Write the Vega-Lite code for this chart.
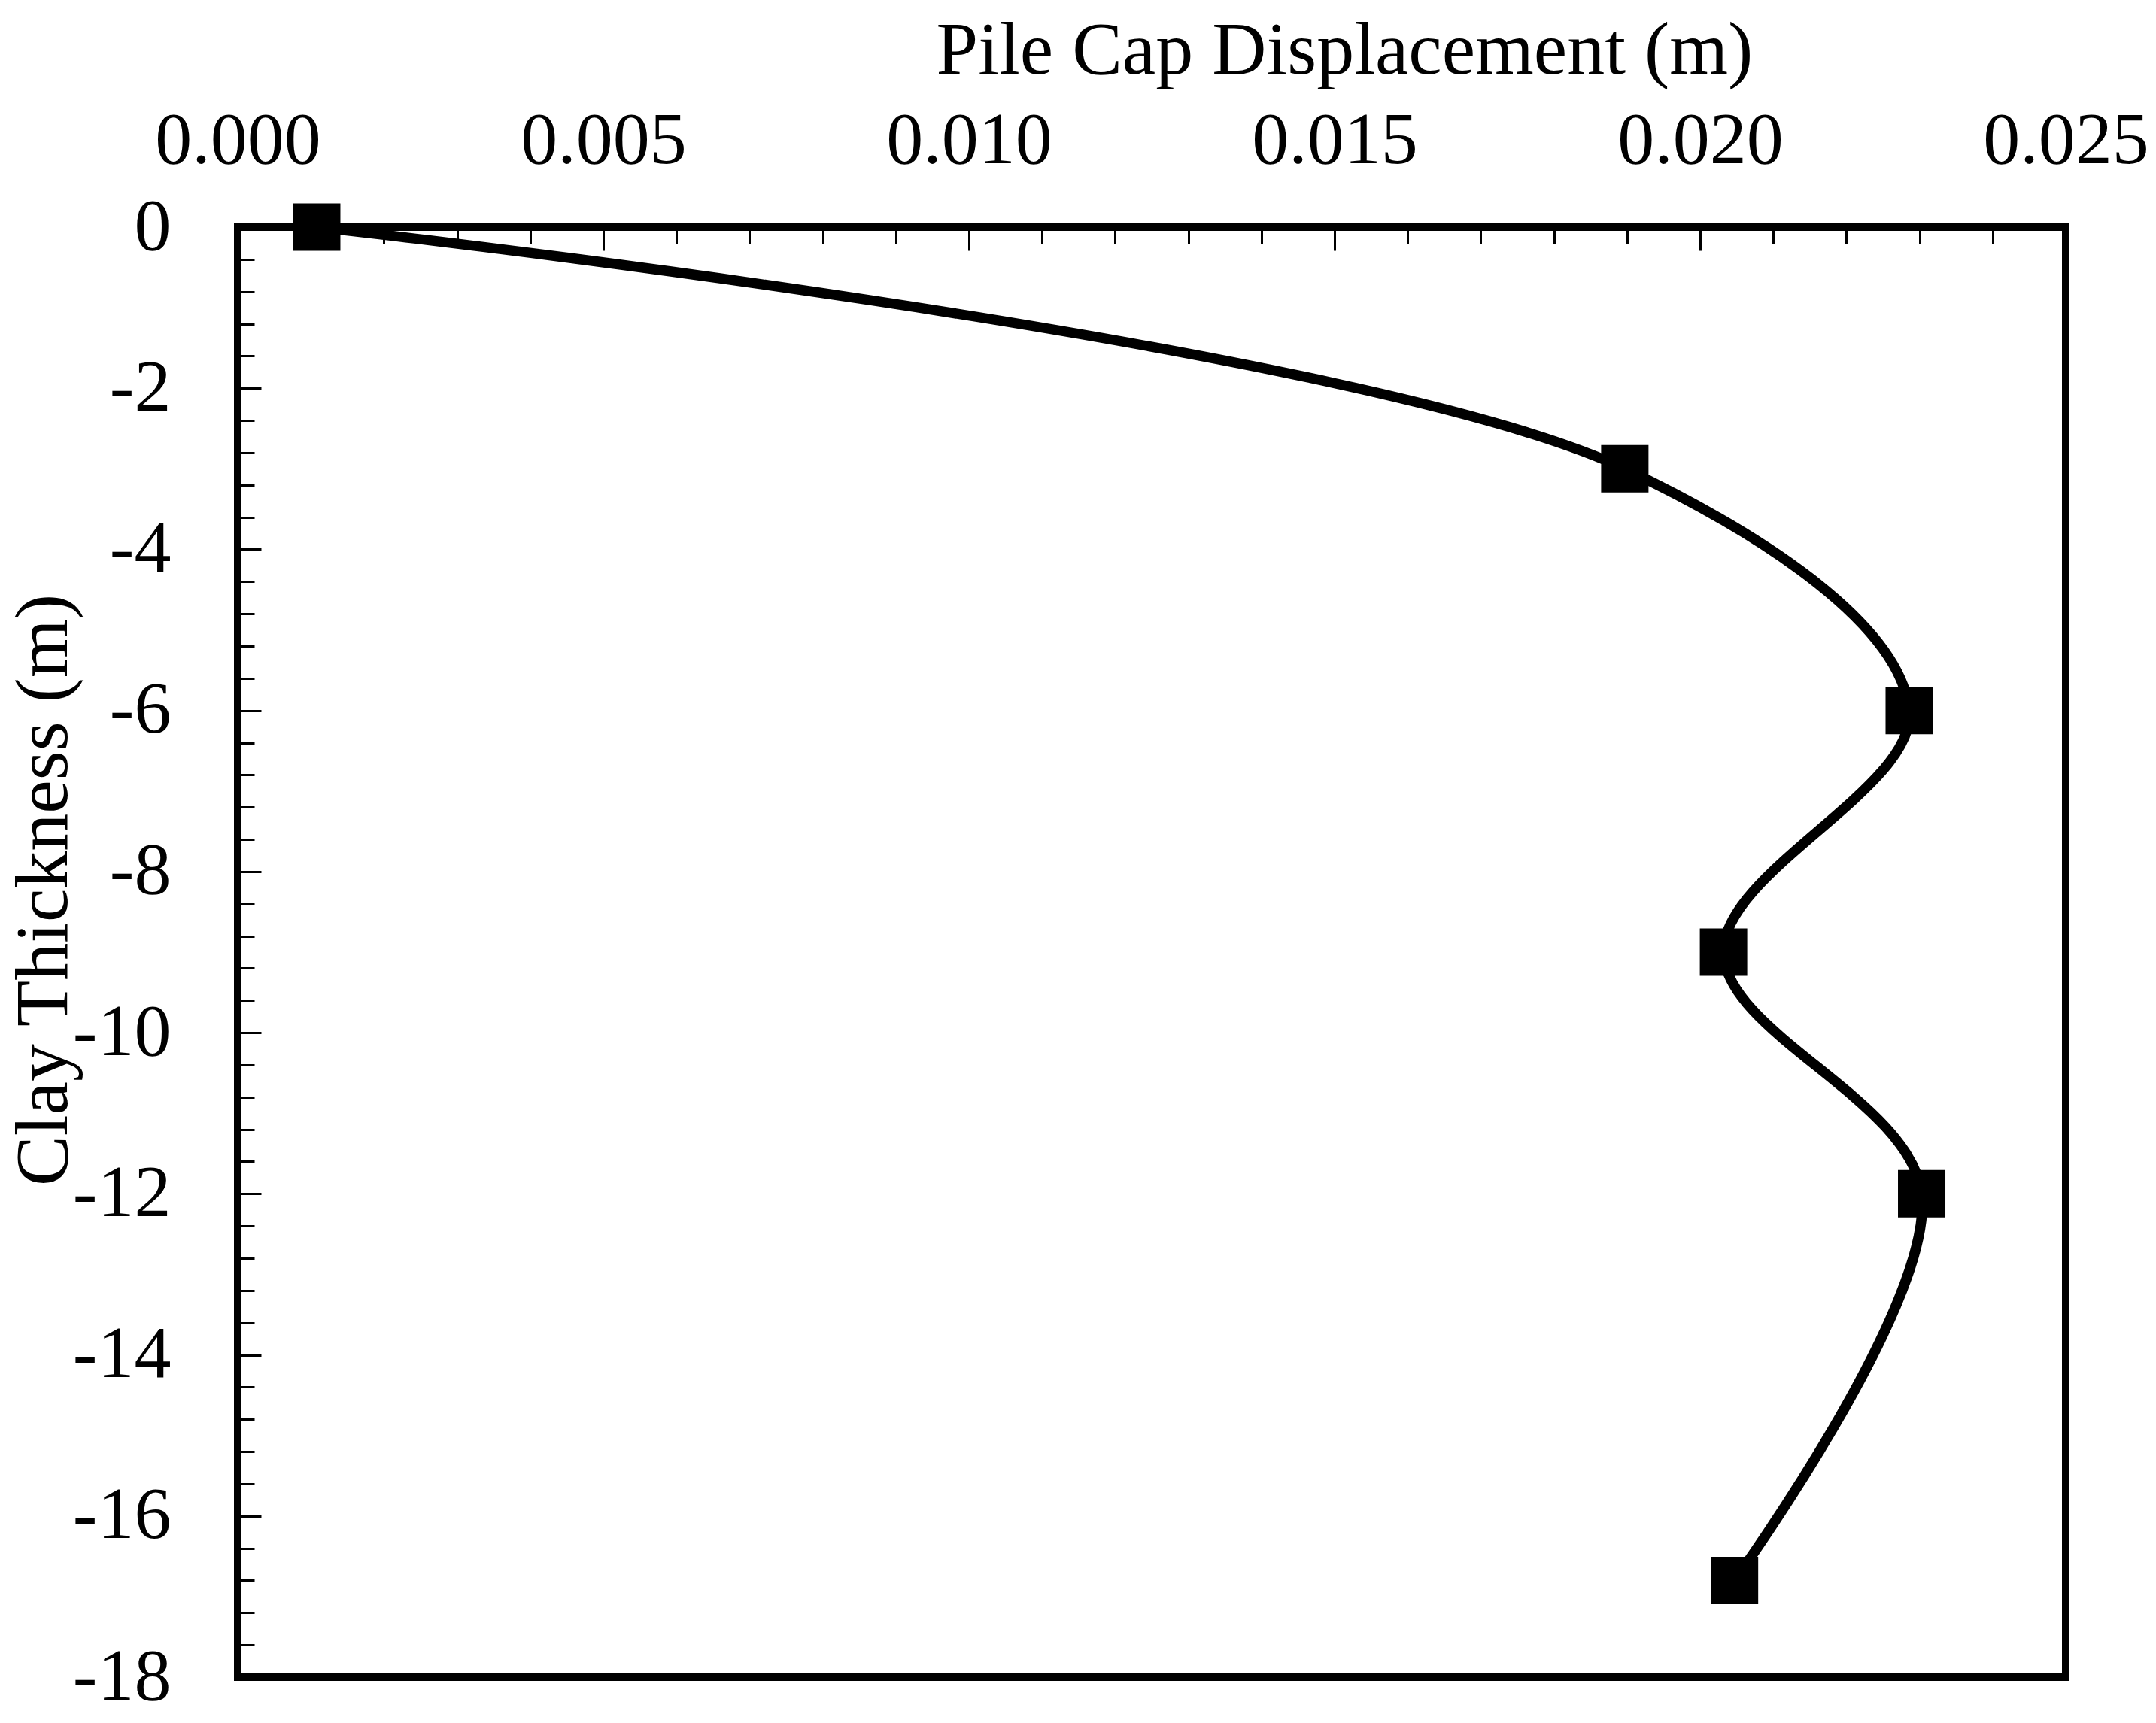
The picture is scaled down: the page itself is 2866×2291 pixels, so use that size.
{
  "$schema": "https://vega.github.io/schema/vega-lite/v6.json",
  "width": 2430,
  "height": 1928,
  "autosize": {"type": "none"},
  "padding": {"left": 316, "top": 302, "right": 120, "bottom": 61},
  "background": "white",
  "data": {
    "values": [
      {"displacement": 0.00108, "depth": 0},
      {"displacement": 0.01897, "depth": -3},
      {"displacement": 0.02286, "depth": -6},
      {"displacement": 0.02032, "depth": -9},
      {"displacement": 0.02303, "depth": -12},
      {"displacement": 0.02047, "depth": -16.8}
    ]
  },
  "encoding": {
    "x": {
      "field": "displacement",
      "type": "quantitative",
      "scale": {"domain": [0, 0.025], "nice": false, "zero": false},
      "axis": {
        "orient": "top",
        "title": "Pile Cap Displacement (m)",
        "titleX": 1471,
        "titleY": -205,
        "titleAlign": "center",
        "titleBaseline": "alphabetic",
        "values": [0, 0.001, 0.002, 0.003, 0.004, 0.005, 0.006, 0.007, 0.008, 0.009, 0.01, 0.011, 0.012, 0.013, 0.014, 0.015, 0.016, 0.017, 0.018, 0.019, 0.02, 0.021, 0.022, 0.023, 0.024, 0.025],
        "labelExpr": "round(datum.value * 1000) % 5 == 0 ? format(datum.value, '.3f') : ''",
        "labelBaseline": "alphabetic",
        "labelPadding": 117,
        "tickSize": {"condition": {"test": "round(datum.value * 1000) % 5 == 0", "value": -31}, "value": -22}
      }
    },
    "y": {
      "field": "depth",
      "type": "quantitative",
      "scale": {"domain": [-18, 0], "nice": false, "zero": false},
      "axis": {
        "orient": "left",
        "title": "Clay Thickness (m)",
        "titleX": -228,
        "titleY": 881,
        "titleAngle": 270,
        "titleAlign": "center",
        "titleBaseline": "alphabetic",
        "values": [0, -0.4, -0.8, -1.2, -1.6, -2, -2.4, -2.8, -3.2, -3.6, -4, -4.4, -4.8, -5.2, -5.6, -6, -6.4, -6.8, -7.2, -7.6, -8, -8.4, -8.8, -9.2, -9.6, -10, -10.4, -10.8, -11.2, -11.6, -12, -12.4, -12.8, -13.2, -13.6, -14, -14.4, -14.8, -15.2, -15.6, -16, -16.4, -16.8, -17.2, -17.6, -18],
        "labelExpr": "abs(round(datum.value * 10)) % 20 == 0 ? toString(datum.value) : ''",
        "labelAlign": "right",
        "labelBaseline": "middle",
        "labelPadding": 120,
        "tickSize": {"condition": {"test": "abs(round(datum.value * 10)) % 20 == 0", "value": -31}, "value": -22}
      }
    }
  },
  "layer": [
    {
      "mark": {"type": "line", "interpolate": "catmull-rom", "color": "black", "strokeWidth": 13.5},
      "encoding": {"order": {"field": "depth", "sort": "descending"}}
    },
    {
      "mark": {"type": "point", "shape": "square", "filled": true, "color": "black", "opacity": 1, "size": 3969}
    }
  ],
  "config": {
    "view": {"stroke": "black", "strokeWidth": 10},
    "axis": {
      "domain": false,
      "grid": false,
      "tickColor": "black",
      "tickWidth": 3,
      "labelFont": "Liberation Serif",
      "labelFontSize": 98,
      "labelColor": "black",
      "labelLimit": 0,
      "labelOverlap": false,
      "labelFlush": false,
      "labelBound": false,
      "titleFont": "Liberation Serif",
      "titleFontSize": 100,
      "titleFontWeight": "normal",
      "titleColor": "black",
      "titleLimit": 0
    }
  }
}
